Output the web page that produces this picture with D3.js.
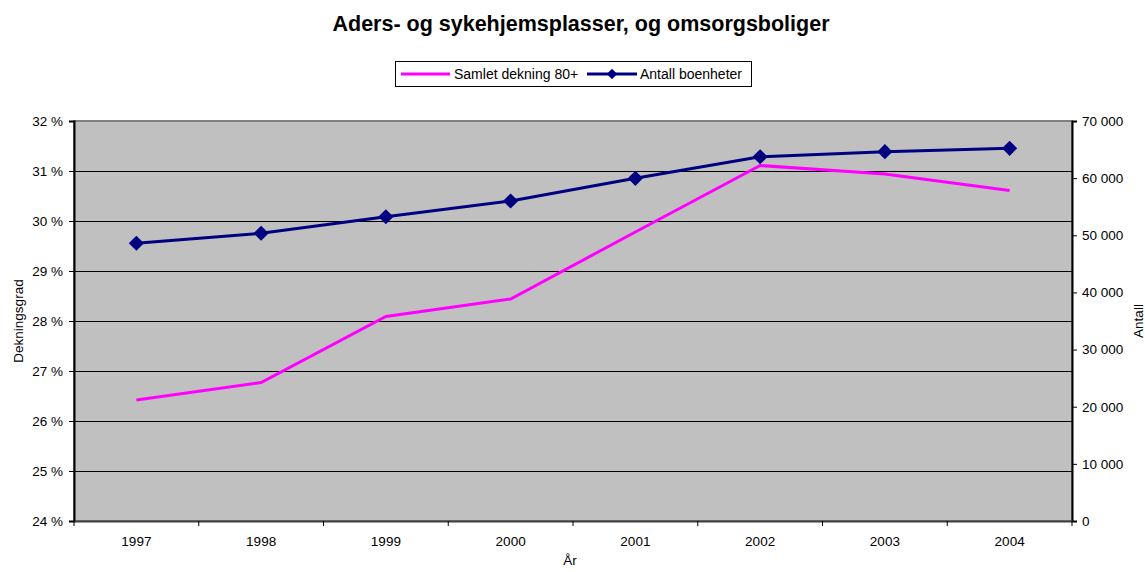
<!DOCTYPE html>
<html><head><meta charset="utf-8">
<script src="https://cdn.jsdelivr.net/npm/d3@7"></script>
<style>body{margin:0;background:#fff;font-family:"Liberation Sans",Arial,sans-serif;}</style>
</head><body>
<svg id="c" width="1145" height="572"></svg>
<script>
const years = ["1997","1998","1999","2000","2001","2002","2003","2004"];
const dekning = [26.42, 26.77, 28.09, 28.44, 29.78, 31.11, 30.94, 30.61];
const boenheter = [48600, 50350, 53250, 56000, 59970, 63750, 64630, 65220];
const leftTicks = [24,25,26,27,28,29,30,31,32];
const rightTicks = [0,10000,20000,30000,40000,50000,60000,70000];

const svg = d3.select("#c");
const L = 74, R = 1072, T = 121, B = 521;
const FS = 13.5;
const x = d3.scaleBand().domain(years).range([L, R]);
const yL = d3.scaleLinear().domain([24, 32]).range([B, T]);
const yR = d3.scaleLinear().domain([0, 70000]).range([B, T]);
const cx = d => x(d) + x.bandwidth()/2;

svg.append("rect").attr("x", L).attr("y", T).attr("width", R-L).attr("height", B-T)
  .attr("fill", "#C0C0C0").attr("stroke", "#808080").attr("stroke-width", 2);

// gridlines
svg.append("g").selectAll("line").data(leftTicks.slice(1, -1)).join("line")
  .attr("x1", L).attr("x2", R).attr("y1", d => Math.round(yL(d))+0.5).attr("y2", d => Math.round(yL(d))+0.5)
  .attr("stroke", "#000").attr("stroke-width", 1);

const fmtPct = d => d + " %";
const fmtNum = d => d3.format(",")(d).replace(/,/g, " ");

const gl = svg.append("g").attr("transform", `translate(${L},0)`)
  .call(d3.axisLeft(yL).tickValues(leftTicks).tickFormat(fmtPct).tickSize(5).tickPadding(6));
const gr = svg.append("g").attr("transform", `translate(${R},0)`)
  .call(d3.axisRight(yR).tickValues(rightTicks).tickFormat(fmtNum).tickSize(5).tickPadding(5));
const gb = svg.append("g").attr("transform", `translate(0,${B})`)
  .call(d3.axisBottom(x).tickSize(0).tickPadding(15.5));
// band boundary ticks
svg.append("g").selectAll("line").data(d3.range(years.length + 1)).join("line")
  .attr("x1", i => L + i * x.bandwidth()).attr("x2", i => L + i * x.bandwidth())
  .attr("y1", B).attr("y2", B + 5).attr("stroke", "#000");

[gl, gr, gb].forEach(g => {
  g.selectAll("text").attr("font-size", FS).attr("fill", "#000").attr("font-family", "Liberation Sans, Arial, sans-serif");
  g.selectAll("line").attr("stroke", "#000");
  g.select(".domain").attr("stroke", "#000").attr("stroke-width", 2);
});
gb.select(".domain").attr("stroke", "#404040");

// lines
const linePink = d3.line().x((d, i) => cx(years[i])).y(d => yL(d));
svg.append("path").datum(dekning).attr("d", linePink)
  .attr("fill", "none").attr("stroke", "#FF00FF").attr("stroke-width", 3);
const lineBlue = d3.line().x((d, i) => cx(years[i])).y(d => yR(d));
svg.append("path").datum(boenheter).attr("d", lineBlue)
  .attr("fill", "none").attr("stroke", "#000080").attr("stroke-width", 3);
svg.append("g").selectAll("path").data(boenheter).join("path")
  .attr("d", d3.symbol().type(d3.symbolSquare).size(115))
  .attr("transform", (d, i) => `translate(${cx(years[i])},${yR(d)}) rotate(45)`)
  .attr("fill", "#000080");

// title
svg.append("text").attr("x", 581).attr("y", 31).attr("text-anchor", "middle")
  .attr("font-size", 21.5).attr("font-weight", "bold").text("Aders- og sykehjemsplasser, og omsorgsboliger");

// legend
const lg = svg.append("g");
lg.append("rect").attr("x", 395.5).attr("y", 61.5).attr("width", 356).attr("height", 25)
  .attr("fill", "#fff").attr("stroke", "#000");
lg.append("line").attr("x1", 401).attr("x2", 450).attr("y1", 74).attr("y2", 74).attr("stroke", "#FF00FF").attr("stroke-width", 3);
lg.append("text").attr("x", 454).attr("y", 78.5).attr("font-size", 14).text("Samlet dekning 80+");
lg.append("line").attr("x1", 587).attr("x2", 637).attr("y1", 74).attr("y2", 74).attr("stroke", "#000080").attr("stroke-width", 3);
lg.append("path").attr("d", d3.symbol().type(d3.symbolSquare).size(55)).attr("transform", "translate(612,74) rotate(45)").attr("fill", "#000080");
lg.append("text").attr("x", 640).attr("y", 78.5).attr("font-size", 14).text("Antall boenheter");

// axis labels
svg.append("text").attr("transform", "translate(23,321) rotate(-90)").attr("text-anchor", "middle")
  .attr("font-size", FS).text("Dekningsgrad");
svg.append("text").attr("transform", "translate(1143,321) rotate(-90)").attr("text-anchor", "middle")
  .attr("font-size", FS).text("Antall");
svg.append("text").attr("x", 570).attr("y", 565).attr("text-anchor", "middle")
  .attr("font-size", FS).text("År");
</script>
</body></html>
